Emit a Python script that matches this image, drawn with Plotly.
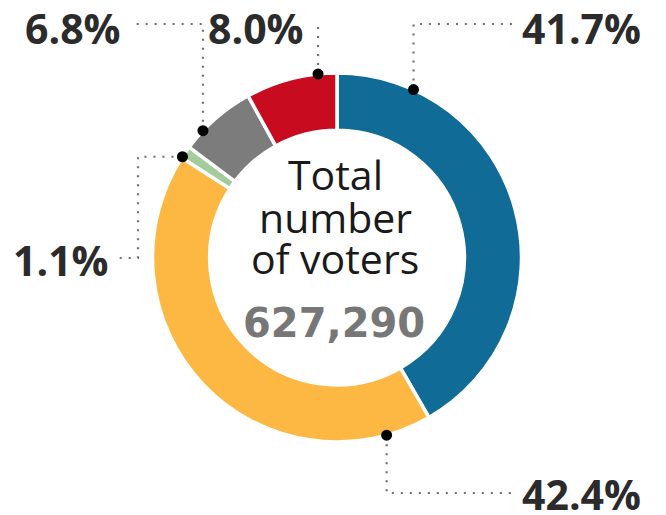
import math
import plotly.graph_objects as go

# Vote shares, clockwise from 12 o'clock
parties = ["Blue", "Yellow", "Green", "Gray", "Red"]
shares = [41.7, 42.4, 1.1, 6.8, 8.0]
colors = ["#106c96", "#fdb844", "#a3cb9c", "#7c7c7c", "#c80b1f"]
share_labels = ["41.7%", "42.4%", "1.1%", "6.8%", "8.0%"]

total_voters = 627290
center_lines = ["Total", "number", "of voters"]

W, H = 666, 515
CX, CY, R = 337.0, 257.5, 184.5          # ring centre and outer radius (px)
HOLE = 0.69

# where each leader line touches the ring (degrees clockwise from 12 o'clock)
anchor_angles = [24.5, 164.4, 303.1, 313.4, 354.1]

fig = go.Figure()

fig.add_trace(go.Pie(
    labels=parties,
    values=shares,
    marker=dict(colors=colors, line=dict(color="white", width=3.5)),
    hole=HOLE,
    sort=False,
    direction="clockwise",
    rotation=0,
    textinfo="none",
    hoverinfo="label+percent",
    showlegend=False,
    domain=dict(x=[(CX - R) / W, (CX + R) / W],
                y=[1 - (CY + R) / H, 1 - (CY - R) / H]),
))


def anchor(i):
    a = math.radians(anchor_angles[i])
    return CX + R * math.sin(a), CY - R * math.cos(a)


TOP_Y, BOT_Y = 24, 493
ax = {p: anchor(i) for i, p in enumerate(parties)}

leader_paths = {
    "Blue": [ax["Blue"], (ax["Blue"][0], TOP_Y), (515, TOP_Y)],
    "Red": [ax["Red"], (ax["Red"][0], TOP_Y)],
    "Gray": [ax["Gray"], (ax["Gray"][0], TOP_Y), (130, TOP_Y)],
    "Green": [ax["Green"], (138, ax["Green"][1]), (138, 258), (115, 258)],
    "Yellow": [ax["Yellow"], (ax["Yellow"][0], BOT_Y), (515, BOT_Y)],
}

for p in parties:
    pts = leader_paths[p]
    fig.add_trace(go.Scatter(
        x=[q[0] for q in pts], y=[q[1] for q in pts],
        mode="lines", line=dict(color="#6f6f6f", width=2.2, dash="2px,7px"),
        hoverinfo="skip", showlegend=False,
    ))

# anchor dots sit on top of the ring, so draw them as shapes above everything
DOT_R = 5.5
shapes = []
for p in parties:
    x, y = ax[p]
    shapes.append(dict(
        type="circle", xref="x", yref="y", layer="above",
        x0=x - DOT_R, x1=x + DOT_R, y0=y - DOT_R, y1=y + DOT_R,
        fillcolor="black", line=dict(width=0),
    ))

label_pos = {
    "Blue": (520, 28, "left"),
    "Yellow": (520, 494, "left"),
    "Green": (111, 260, "right"),
    "Gray": (123, 28, "right"),
    "Red": (306, 28, "right"),
}

annotations = []
for p, txt in zip(parties, share_labels):
    x, y, anc = label_pos[p]
    annotations.append(dict(
        x=x, y=y, xref="x", yref="y", text=txt, showarrow=False,
        xanchor=anc, yanchor="middle", height=40, valign="middle",
        font=dict(family="Open Sans", size=41, color="#2b2b2b", weight="bold"),
    ))

for txt, yb in zip(center_lines, [174, 217, 258]):
    annotations.append(dict(
        x=335, y=yb, xref="x", yref="y", text=txt, showarrow=False,
        xanchor="center", yanchor="middle", height=42, valign="middle",
        font=dict(family="Open Sans", size=41, color="#1a1a1a"),
    ))

annotations.append(dict(
    x=334, y=323, xref="x", yref="y", text=f"{total_voters:,}", showarrow=False,
    xanchor="center", yanchor="middle",
    font=dict(family="DejaVu Sans", size=40, color="#777777", weight="bold"),
))

fig.update_layout(
    width=W, height=H,
    margin=dict(l=0, r=0, t=0, b=0),
    paper_bgcolor="white", plot_bgcolor="rgba(0,0,0,0)",
    xaxis=dict(range=[0, W], visible=False, fixedrange=True),
    yaxis=dict(range=[H, 0], visible=False, fixedrange=True),
    annotations=annotations,
    shapes=shapes,
    showlegend=False,
)

fig.write_html("out.html")
